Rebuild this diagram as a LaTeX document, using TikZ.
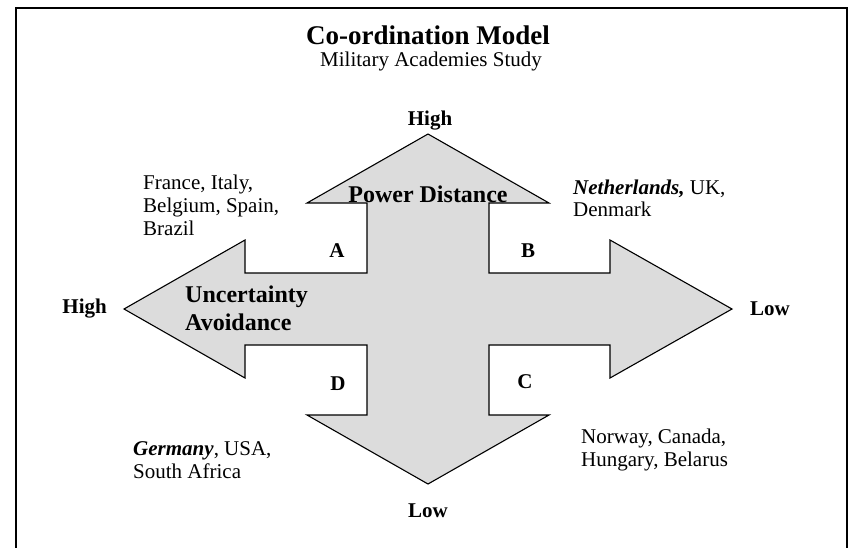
\documentclass[tikz,border=0pt]{standalone}
\usepackage{fontspec}
\setmainfont{Liberation Serif}
\definecolor{crossfill}{RGB}{220,220,220}
\begin{document}
\begin{tikzpicture}[x=1pt,y=-1pt,
  lbl/.style={inner sep=0pt, anchor=base, font=\fontsize{21}{23}\selectfont\bfseries},
  axislbl/.style={inner sep=0pt, font=\fontsize{24}{28}\selectfont\bfseries},
  cntry/.style={inner sep=0pt, align=left, anchor=base west, font=\fontsize{21}{23}\selectfont}]
\useasboundingbox (0,0) rectangle (850,547);
\fill[white] (0,0) rectangle (850,547);
\draw[line width=1.5pt] (16,550) -- (16,8) -- (847,8) -- (847,550);
\draw[line width=1.1pt, fill=crossfill, line join=miter]
  (428,134) -- (549,203) -- (489,203) -- (489,273) -- (610,273) -- (610,240)
  -- (732,309) -- (610,378) -- (610,345) -- (489,345) -- (489,415) -- (549,415)
  -- (428,484) -- (307,415) -- (367,415) -- (367,345) -- (245,345) -- (245,378)
  -- (124,309) -- (245,240) -- (245,273) -- (367,273) -- (367,203) -- (307,203) -- cycle;
\node[inner sep=0pt, anchor=base, font=\fontsize{27}{30}\selectfont\bfseries] (title) at (428,44) {Co-ordination Model};
\node[inner sep=0pt, anchor=base, font=\fontsize{21}{23}\selectfont] (subtitle) at (431,66) {Military Academies Study};
\node[lbl] (pdhigh) at (430,125) {High};
\node[lbl] (pdlow) at (428,517) {Low};
\node[lbl, anchor=base east] (uahigh) at (107,313) {High};
\node[lbl, anchor=base west] (ualow) at (750,315) {Low};
\node[axislbl, anchor=base] (pd) at (428,202) {Power Distance};
\node[axislbl, anchor=base west, align=left] (ua) at (185,330) {Uncertainty\\Avoidance};
\node[lbl] (qa) at (337,257) {A};
\node[lbl] (qb) at (528,257) {B};
\node[lbl] (qc) at (525,388) {C};
\node[lbl] (qd) at (338,390) {D};
\node[cntry] (ca) at (143,235) {France, Italy,\\Belgium, Spain,\\Brazil};
\node[cntry, font=\fontsize{21}{22}\selectfont] (cb) at (573,216) {\textbf{\textit{Netherlands,}} UK,\\Denmark};
\node[cntry] (cd) at (133,478) {\textbf{\textit{Germany}}, USA,\\South Africa};
\node[cntry] (cc) at (581,466) {Norway, Canada,\\Hungary, Belarus};
\end{tikzpicture}
\end{document}
